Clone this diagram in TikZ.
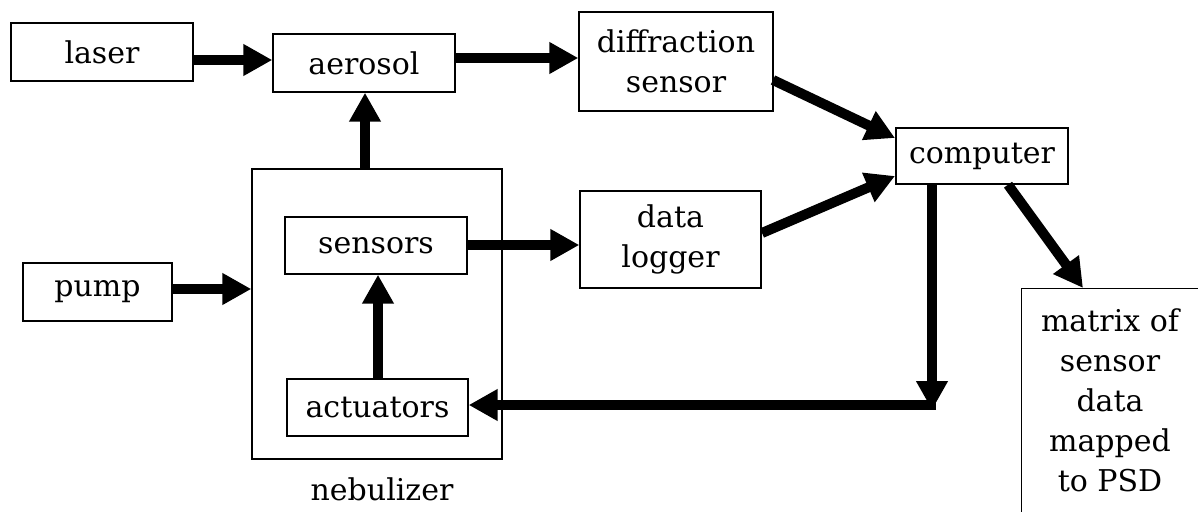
\documentclass[tikz,border=0pt]{standalone}
\usepackage{fontspec}
\setmainfont{DejaVu Serif}
\usetikzlibrary{arrows.meta,calc}
\tikzset{
  box/.style={draw, line width=1.4pt, inner sep=0pt, align=center,
    font=\fontsize{30}{40}\selectfont},
  lbl/.style={inner sep=0pt, align=center, font=\fontsize{30}{40}\selectfont},
  arr/.style={line width=10pt, -{Triangle[length=29pt,width=30pt]}},
}
\begin{document}
\begin{tikzpicture}[x=1pt,y=-1pt]
\useasboundingbox (0,0) rectangle (1198,511);
\clip (0,0) rectangle (1198,511);
% nodes
\node[box, minimum width=182pt, minimum height=58pt] (laser) at (102,52) {laser};
\node[box, minimum width=182pt, minimum height=58pt] (aerosol) at (364,63) {aerosol};
\node[box, minimum width=194pt, minimum height=99pt] (diff) at (676,61.5) {diffraction\\sensor};
\node[box, minimum width=172pt, minimum height=56pt] (computer) at (982,156) {computer};
\node[box, minimum width=250pt, minimum height=290pt] (neb) at (377,314) {};
\node[lbl] (neblabel) at (382,489) {nebulizer};
\node[box, minimum width=182pt, minimum height=57pt] (sensors) at (376,245.5) {sensors};
\node[box, minimum width=181pt, minimum height=97pt] (logger) at (670.5,239.5) {data\\logger};
\node[box, minimum width=149pt, minimum height=58pt] (pump) at (97.5,292) {pump};
\node[box, minimum width=181pt, minimum height=57pt] (actuators) at (377.5,407.5) {actuators};
\node[box, anchor=north west, minimum width=200pt, minimum height=250pt] (matrixbox) at (1021,288) {};
\node[lbl] (matrix) at (1110,400) {matrix of\\sensor\\data\\mapped\\to PSD};
% helper coordinates
\coordinate (corner) at (932,410);
\coordinate (hstart) at (936,405);
\coordinate (mtop) at (1083,288);
\coordinate (dstart) at (773,80);
\coordinate (ctop) at (895,138);
\coordinate (lstart) at (762,233);
\coordinate (cleft) at (895,176);
% connectors
\draw[arr] (laser.east |- 0,60) -- (aerosol.west |- 0,60);
\draw[arr] (aerosol.east |- 0,58) -- (diff.west |- 0,58);
\draw[arr] (neb.north -| 365,0) -- (aerosol.south -| 365,0);
\draw[arr] (pump.east |- 0,289) -- (neb.west |- 0,289);
\draw[arr] (sensors.east |- 0,245) -- (logger.west |- 0,245);
\draw[arr] (actuators.north -| 378,0) -- (sensors.south -| 378,0);
\draw[arr] (dstart) -- (ctop);
\draw[arr] (lstart) -- (cleft);
\draw[arr] (computer.south -| corner) -- (corner);
\draw[arr] (hstart) -- (actuators.east |- hstart);
\draw[arr] (computer.south -| 1008,0) -- (mtop);
\end{tikzpicture}
\end{document}
